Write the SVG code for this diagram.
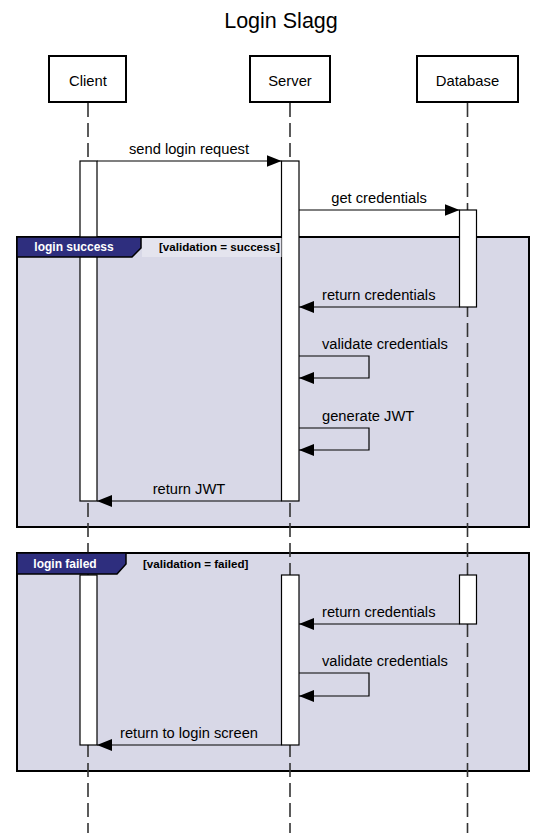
<svg xmlns="http://www.w3.org/2000/svg" width="555" height="833" viewBox="0 0 555 833">
<defs>
<style>
text{font-family:"Liberation Sans",Arial,sans-serif;fill:#000}
.title{font-size:21.5px}
.actor rect{fill:#fff;stroke:#000;stroke-width:2}
.actor text{font-size:14.8px;text-anchor:middle}
.life{stroke:#333;stroke-width:1.6;stroke-dasharray:14 6;fill:none}
.act{fill:#fff;stroke:#000;stroke-width:1.2}
.msg{stroke:#000;stroke-width:1.2;fill:none}
.lbl{font-size:14.7px}
.frame{fill:#d8d8e7;stroke:#000;stroke-width:2}
.tab{fill:#2e2e7e;stroke:#000;stroke-width:1.5}
.tabtxt{font-size:12px;font-weight:bold;fill:#fff;text-anchor:middle}
.guard{font-size:11.6px;font-weight:bold}
</style>
<marker id="ah" markerWidth="15" markerHeight="12" refX="15" refY="6" orient="auto" markerUnits="userSpaceOnUse">
<path d="M0,0 L15,6 L0,12 Z" fill="#000"/>
</marker>
</defs>
<rect width="555" height="833" fill="#fff"/>
<text class="title" x="281" y="28" text-anchor="middle">Login Slagg</text>

<g id="frame-success-bg"><rect class="frame" x="17" y="237" width="512" height="290"/></g>
<g id="frame-failed-bg"><rect class="frame" x="17" y="553" width="512" height="218"/></g>

<g id="lifelines">
<line class="life" x1="88" y1="103" x2="88" y2="833"/>
<line class="life" x1="290" y1="103" x2="290" y2="833"/>
<line class="life" x1="467.5" y1="103" x2="467.5" y2="833"/>
</g>

<g id="actor-client" class="actor"><rect x="49" y="56" width="77" height="46"/><text x="88" y="86">Client</text></g>
<g id="actor-server" class="actor"><rect x="250" y="56" width="80" height="46"/><text x="290" y="86">Server</text></g>
<g id="actor-database" class="actor"><rect x="417" y="56" width="101" height="46"/><text x="467.5" y="86">Database</text></g>

<g id="activations">
<rect class="act" x="80" y="161" width="17" height="340"/>
<rect class="act" x="281.5" y="161" width="17.5" height="340"/>
<rect class="act" x="459.5" y="210" width="17" height="97"/>
<rect class="act" x="80" y="575" width="17" height="170"/>
<rect class="act" x="281.5" y="575" width="17.5" height="170"/>
<rect class="act" x="459.5" y="575" width="17" height="49"/>
</g>

<g id="frame-success-label">
<rect x="142" y="238" width="139.5" height="19" fill="#e4e4ee"/>
<polygon class="tab" points="17,237 141,237 141,248 132,257 17,257"/>
<text class="tabtxt" x="74" y="251">login success</text>
<text class="guard" x="159" y="251">[validation = success]</text>
</g>
<g id="frame-failed-label">
<polygon class="tab" points="17,553 126,553 126,564 117,574 17,574"/>
<text class="tabtxt" x="65" y="568">login failed</text>
<text class="guard" x="143" y="568">[validation = failed]</text>
</g>

<g id="messages">
<line class="msg" x1="97" y1="161" x2="281.5" y2="161" marker-end="url(#ah)"/>
<text class="lbl" x="189" y="154" text-anchor="middle">send login request</text>
<line class="msg" x1="299" y1="210" x2="459.5" y2="210" marker-end="url(#ah)"/>
<text class="lbl" x="379" y="203" text-anchor="middle">get credentials</text>
<line class="msg" x1="459.5" y1="307" x2="299" y2="307" marker-end="url(#ah)"/>
<text class="lbl" x="322" y="300">return credentials</text>
<polyline class="msg" points="299,356 369,356 369,378 299,378" marker-end="url(#ah)"/>
<text class="lbl" x="322" y="349">validate credentials</text>
<polyline class="msg" points="299,428 369,428 369,450 299,450" marker-end="url(#ah)"/>
<text class="lbl" x="322" y="421">generate JWT</text>
<line class="msg" x1="281.5" y1="501" x2="97" y2="501" marker-end="url(#ah)"/>
<text class="lbl" x="189" y="494" text-anchor="middle">return JWT</text>
<line class="msg" x1="459.5" y1="624" x2="299" y2="624" marker-end="url(#ah)"/>
<text class="lbl" x="322" y="617">return credentials</text>
<polyline class="msg" points="299,673 369,673 369,696 299,696" marker-end="url(#ah)"/>
<text class="lbl" x="322" y="666">validate credentials</text>
<line class="msg" x1="281.5" y1="745" x2="97" y2="745" marker-end="url(#ah)"/>
<text class="lbl" x="189" y="738" text-anchor="middle">return to login screen</text>
</g>
</svg>
